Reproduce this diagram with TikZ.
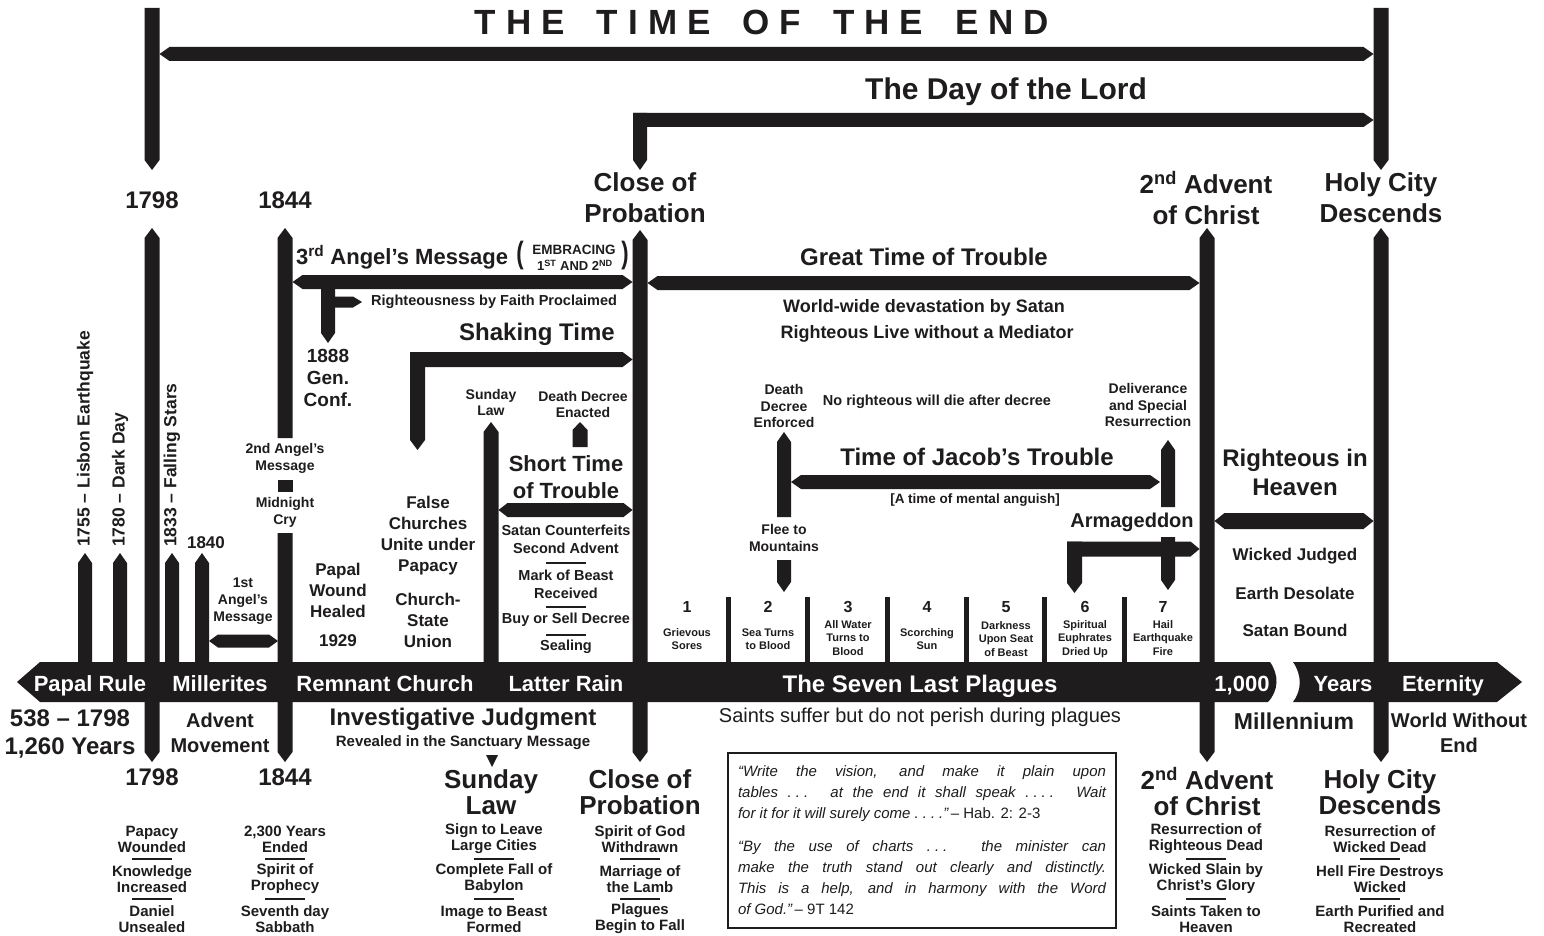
\documentclass[tikz,border=0pt]{standalone}
\usepackage{fontspec}
\setmainfont{Liberation Sans}
\definecolor{ink}{RGB}{30,28,29}
\newcommand\fs[2]{\fontsize{#1}{#2}\selectfont}
\newcommand\dthree{.\kern4pt.\kern4pt.}
\newcommand\dfour{.\kern4pt.\kern4pt.\kern4pt.}
% horizontal pointed bar: x1 x2 y tipL tipR halfwidth
\newcommand\HB[6]{\fill[ink] ({#1},{#3}) -- ({#1+#4},{#3-#6}) -- ({#2-#5},{#3-#6}) -- ({#2},{#3}) -- ({#2-#5},{#3+#6}) -- ({#1+#4},{#3+#6}) -- cycle;}
% vertical pointed bar: x ytop ybot tipT tipB halfwidth
\newcommand\VB[6]{\fill[ink] ({#1},{#2}) -- ({#1+#6},{#2+#4}) -- ({#1+#6},{#3-#5}) -- ({#1},{#3}) -- ({#1-#6},{#3-#5}) -- ({#1-#6},{#2+#4}) -- cycle;}
\newcommand\SEP[2]{\draw[ink,line width=1.3pt] ({#1-20},{#2}) -- ({#1+20},{#2});}
\begin{document}
\begin{tikzpicture}[x=1pt,y=-1pt,
  every node/.style={inner sep=0pt,align=center,text=ink},
  fb/.style 2 args={font=\fs{#1}{#2}\bfseries},
  fr/.style 2 args={font=\fs{#1}{#2}},
  onbar/.style={text=white,font=\fs{22}{26}\bfseries,anchor=base}]
\useasboundingbox (0,0) rectangle (1544,936);
\fill[white] (0,0) rectangle (1544,936);

% ---------------- title and top brackets
\node[fb={35}{40}] (title) at (762,22) {T\kern10pt H\kern10pt E\hspace{32pt}T\kern10pt I\kern10pt M\kern10pt E\hspace{32pt}O\kern10pt F\hspace{32pt}T\kern10pt H\kern10pt E\hspace{32pt}E\kern10pt N\kern10pt D};
\VB{152}{8}{170}{0}{10}{7.5}
\VB{1381}{8}{170}{0}{10}{7.5}
\HB{159.5}{1373.5}{54}{10}{10}{7}
\node[fb={30}{34}] (dayl) at (1006,92) {The Day of the Lord};
\VB{640}{113}{170}{0}{10}{7}
\HB{633}{1373.5}{120}{0}{10}{7}

% top labels
\node[fb={24}{28}] (y1798t) at (152,200) {1798};
\node[fb={24}{28}] (y1844t) at (285,200) {1844};
\node[fb={26}{31}] (copt) at (645,198) {Close of\\Probation};
\node[fb={26}{31}] (advt) at (1206,198) {2\textsuperscript{nd} Advent\\of Christ};
\node[fb={26}{31}] (holyt) at (1381,198) {Holy City\\Descends};

% ---------------- main posts
\VB{152}{228}{762}{10}{10}{7.5}
\VB{285}{228}{438}{10}{0}{7.5}
\fill[ink] (277.5,480) rectangle (292.5,492);
\VB{285}{533}{762}{0}{10}{7.5}
\VB{640}{230}{762}{10}{10}{7.5}
\VB{1207}{228}{762}{10}{10}{7.5}
\VB{1381}{228}{762}{10}{10}{7.5}

% ---------------- main bar
\fill[ink] (17,682) -- (40,662) -- (1270,662) .. controls (1279,675) and (1279,690) .. (1268,702) -- (40,702) -- cycle;
\fill[ink] (1293,662) -- (1497,662) -- (1522,682) -- (1497,702) -- (1293,702) .. controls (1302,690) and (1302,675) .. (1293,662) -- cycle;

% ---------------- left small posts
\VB{85}{553}{662}{10}{0}{7}
\VB{120}{553}{662}{10}{0}{7}
\VB{172}{553}{662}{10}{0}{7}
\VB{202}{553}{662}{10}{0}{7}
\HB{209}{278}{641}{9}{9}{6.5}
\node[fb={17.5}{20},rotate=90,anchor=west] (lisbon) at (85,547) {1755 -- Lisbon Earthquake};
\node[fb={17.5}{20},rotate=90,anchor=west] (dark) at (120,547) {1780 -- Dark Day};
\node[fb={17.5}{20},rotate=90,anchor=west] (stars) at (172,547) {1833 -- Falling Stars};
\node[fb={17}{20}] (y1840) at (206,543) {1840};
\node[fb={14}{17}] (ang1) at (243,601) {1st\\Angel’s\\Message};
\node[fb={14}{17}] (ang2) at (285,458) {2nd Angel’s\\Message};
\node[fb={14}{17}] (cry) at (285,512) {Midnight\\Cry};

% ---------------- 3rd angel region
\HB{292.5}{632.5}{282}{10}{10}{7}
\node[fb={22}{26},anchor=west] (ang3) at (296,257) {3\textsuperscript{rd} Angel’s Message};
\node[fb={22}{26}] (parl) at (520,256) {\scalebox{1}[1.4]{(}};
\node[fb={13.5}{14}] (embr) at (574,250) {EMBRACING};
\node[fb={13}{14}] (embr2) at (575,265) {1\textsuperscript{ST} AND 2\textsuperscript{ND}};
\node[fb={22}{26}] (parr) at (625,256) {\scalebox{1}[1.4]{)}};
\VB{328}{282}{343}{0}{10}{7}
\HB{335}{362}{302}{0}{9}{5.5}
\node[fb={14.5}{17},anchor=west] (rbf) at (371,302) {Righteousness by Faith Proclaimed};
\node[fb={19}{22}] (gc) at (328,378) {1888\\Gen.\\Conf.};
\node[fb={24}{28}] (shake) at (537,334) {Shaking Time};
\HB{410}{632.5}{359.5}{0}{10}{7.5}
\VB{417.5}{352}{450}{0}{10}{7.5}
\node[fb={17}{21}] (papal) at (338,590) {Papal\\Wound\\Healed};
\node[fb={17}{21}] (y1929) at (338,641) {1929};
\node[fb={17}{21}] (falsec) at (428,536) {False\\Churches\\Unite under\\Papacy};
\node[fb={17}{21}] (csu) at (428,620) {Church-\\State\\Union};

\VB{491}{422}{662}{10}{0}{7.5}
\node[fb={14}{16}] (sunsm) at (491,402) {Sunday\\Law};
\VB{580}{422}{447}{8}{0}{7.5}
\node[fb={14}{16}] (ddenact) at (583,404) {Death Decree\\Enacted};
\node[fb={22}{27}] (stt) at (566,477) {Short Time\\of Trouble};
\HB{498.5}{632.5}{510}{9}{9}{7}
\node[fb={14.5}{18}] (satan) at (566,539) {Satan Counterfeits\\Second Advent};
\SEP{566}{563}
\node[fb={14.5}{18}] (mark) at (566,584) {Mark of Beast\\Received};
\SEP{566}{607}
\node[fb={14.5}{18}] (buy) at (566,620) {Buy or Sell Decree};
\SEP{566}{635}
\node[fb={14.5}{18}] (seal) at (566,647) {Sealing};

% ---------------- great time of trouble region
\node[fb={24}{28}] (gtt) at (924,257) {Great Time of Trouble};
\HB{647.5}{1199.5}{283}{10}{10}{7}
\node[fb={18}{22}] (wwd) at (924,308) {World-wide devastation by Satan};
\node[fb={18}{22}] (rlwm) at (927,334) {Righteous Live without a Mediator};
\node[fb={14}{16.5}] (ddenf) at (784,406) {Death\\Decree\\Enforced};
\node[fb={14.5}{17}] (norig) at (937,402) {No righteous will die after decree};
\node[fb={14}{16.5}] (deliv) at (1148,405) {Deliverance\\and Special\\Resurrection};
\VB{784}{432}{517}{10}{0}{7}
\VB{784}{560}{592}{0}{10}{7}
\node[fb={14}{17}] (flee) at (784,538) {Flee to\\Mountains};
\node[fb={24}{28}] (jacob) at (977,457) {Time of Jacob’s Trouble};
\HB{791}{1160}{482}{10}{10}{7}
\node[fb={13.5}{16}] (angu) at (975,500) {[A time of mental anguish]};
\VB{1168}{440}{507}{10}{0}{7}
\VB{1168}{537}{590}{0}{10}{7}
\node[fb={20}{24}] (armag) at (1132,522) {Armageddon};
\HB{1067}{1199.5}{549}{0}{9}{7.5}
\VB{1074.5}{541.5}{593}{0}{10}{7.5}

% plague boxes
\foreach \sx in {728,807,887,966,1044,1124} {\fill[ink] (\sx-2.5,597) rectangle (\sx+2.5,662);}
\node[fb={16}{18}] (p1) at (687,607) {1};
\node[fb={16}{18}] (p2) at (768,607) {2};
\node[fb={16}{18}] (p3) at (848,607) {3};
\node[fb={16}{18}] (p4) at (927,607) {4};
\node[fb={16}{18}] (p5) at (1006,607) {5};
\node[fb={16}{18}] (p6) at (1085,607) {6};
\node[fb={16}{18}] (p7) at (1163,607) {7};
\node[fb={11}{13.5}] (pl1) at (687,639) {Grievous\\Sores};
\node[fb={11}{13.5}] (pl2) at (768,639) {Sea Turns\\to Blood};
\node[fb={11}{13.5}] (pl3) at (848,638) {All Water\\Turns to\\Blood};
\node[fb={11}{13.5}] (pl4) at (927,639) {Scorching\\Sun};
\node[fb={11}{13.5}] (pl5) at (1006,639) {Darkness\\Upon Seat\\of Beast};
\node[fb={11}{13.5}] (pl6) at (1085,639) {Spiritual\\Euphrates\\Dried Up};
\node[fb={11}{13.5}] (pl7) at (1163,638) {Hail\\Earthquake\\Fire};

% ---------------- millennium region
\node[fb={24}{29}] (rih) at (1295,472) {Righteous in\\Heaven};
\HB{1214.5}{1373.5}{521}{10}{10}{8}
\node[fb={17}{20}] (wj) at (1295,556) {Wicked Judged};
\node[fb={17}{20}] (ed) at (1295,593) {Earth Desolate};
\node[fb={17}{20}] (sb) at (1295,630) {Satan Bound};

% ---------------- bar texts
\node[onbar] (b1) at (90,691) {Papal Rule};
\node[onbar] (b2) at (220,691) {Millerites};
\node[onbar] (b3) at (385,691) {Remnant Church};
\node[onbar] (b4) at (566,691) {Latter Rain};
\node[onbar,font=\fs{24}{28}\bfseries] (b5) at (920,692) {The Seven Last Plagues};
\node[onbar] (b6) at (1242,691) {1,000};
\node[onbar] (b7) at (1343,691) {Years};
\node[onbar] (b8) at (1443,691) {Eternity};

% ---------------- below bar
\node[fb={24}{28}] (yrs1) at (70,734) {538 -- 1798\\1,260 Years};
\node[fb={20}{25}] (advm) at (220,733) {Advent\\Movement};
\node[fb={24}{28}] (y1798b) at (152,777) {1798};
\node[fb={24}{28}] (y1844b) at (285,777) {1844};
\node[fb={24}{28}] (ij) at (463,719) {Investigative Judgment};
\node[fb={15}{18}] (rev) at (463,743) {Revealed in the Sanctuary Message};
\fill[ink] (486,755) -- (498,755) -- (492,767) -- cycle;
\node[fr={20}{24}] (saints) at (920,717) {Saints suffer but do not perish during plagues};
\node[fb={23}{27}] (mill) at (1294,721) {Millennium};
\node[fb={20}{25}] (wwe) at (1459,733) {World Without\\End};

\node[fb={26}{26}] (sunb) at (491,792) {Sunday\\Law};
\node[fb={26}{26}] (copb) at (640,792) {Close of\\Probation};
\node[fb={26}{26}] (advb) at (1207,792) {2\textsuperscript{nd} Advent\\of Christ};
\node[fb={26}{26}] (holyb) at (1380,792) {Holy City\\Descends};

% lists
\foreach \lx/\ta/\tb/\tc in {
  152/{Papacy\\Wounded}/{Knowledge\\Increased}/{Daniel\\Unsealed},
  285/{2,300 Years\\Ended}/{Spirit of\\Prophecy}/{Seventh day\\Sabbath},
  494/{Sign to Leave\\Large Cities}/{Complete Fall of\\Babylon}/{Image to Beast\\Formed},
  640/{Spirit of God\\Withdrawn}/{Marriage of\\the Lamb}/{Plagues\\Begin to Fall},
  1206/{Resurrection of\\Righteous Dead}/{Wicked Slain by\\Christ’s Glory}/{Saints Taken to\\Heaven},
  1380/{Resurrection of\\Wicked Dead}/{Hell Fire Destroys\\Wicked}/{Earth Purified and\\Recreated}} {
  \node[fb={15}{16}] at (\lx,839) {\ta};
  \SEP{\lx}{859}
  \node[fb={15}{16}] at (\lx,879) {\tb};
  \SEP{\lx}{899}
  \node[fb={15}{16}] at (\lx,919) {\tc};
}

% quote box
\draw[ink,line width=2pt] (728,753) rectangle (1116,928);
\node[fr={15}{21},text width=368pt,align=justify] (quote) at (922,840) {\itshape “Write the vision, and make it plain upon\linebreak tables \dthree{} at the end it shall speak \dfour{} Wait\linebreak for it for it will surely come \dfour”\upshape\,– Hab. 2: 2-3\par\vspace{12pt}\itshape “By the use of charts \dthree{} the minister can\linebreak make the truth stand out clearly and distinctly.\linebreak This is a help, and in harmony with the Word\linebreak of God.”\upshape\,– 9T 142};
\end{tikzpicture}
\end{document}
